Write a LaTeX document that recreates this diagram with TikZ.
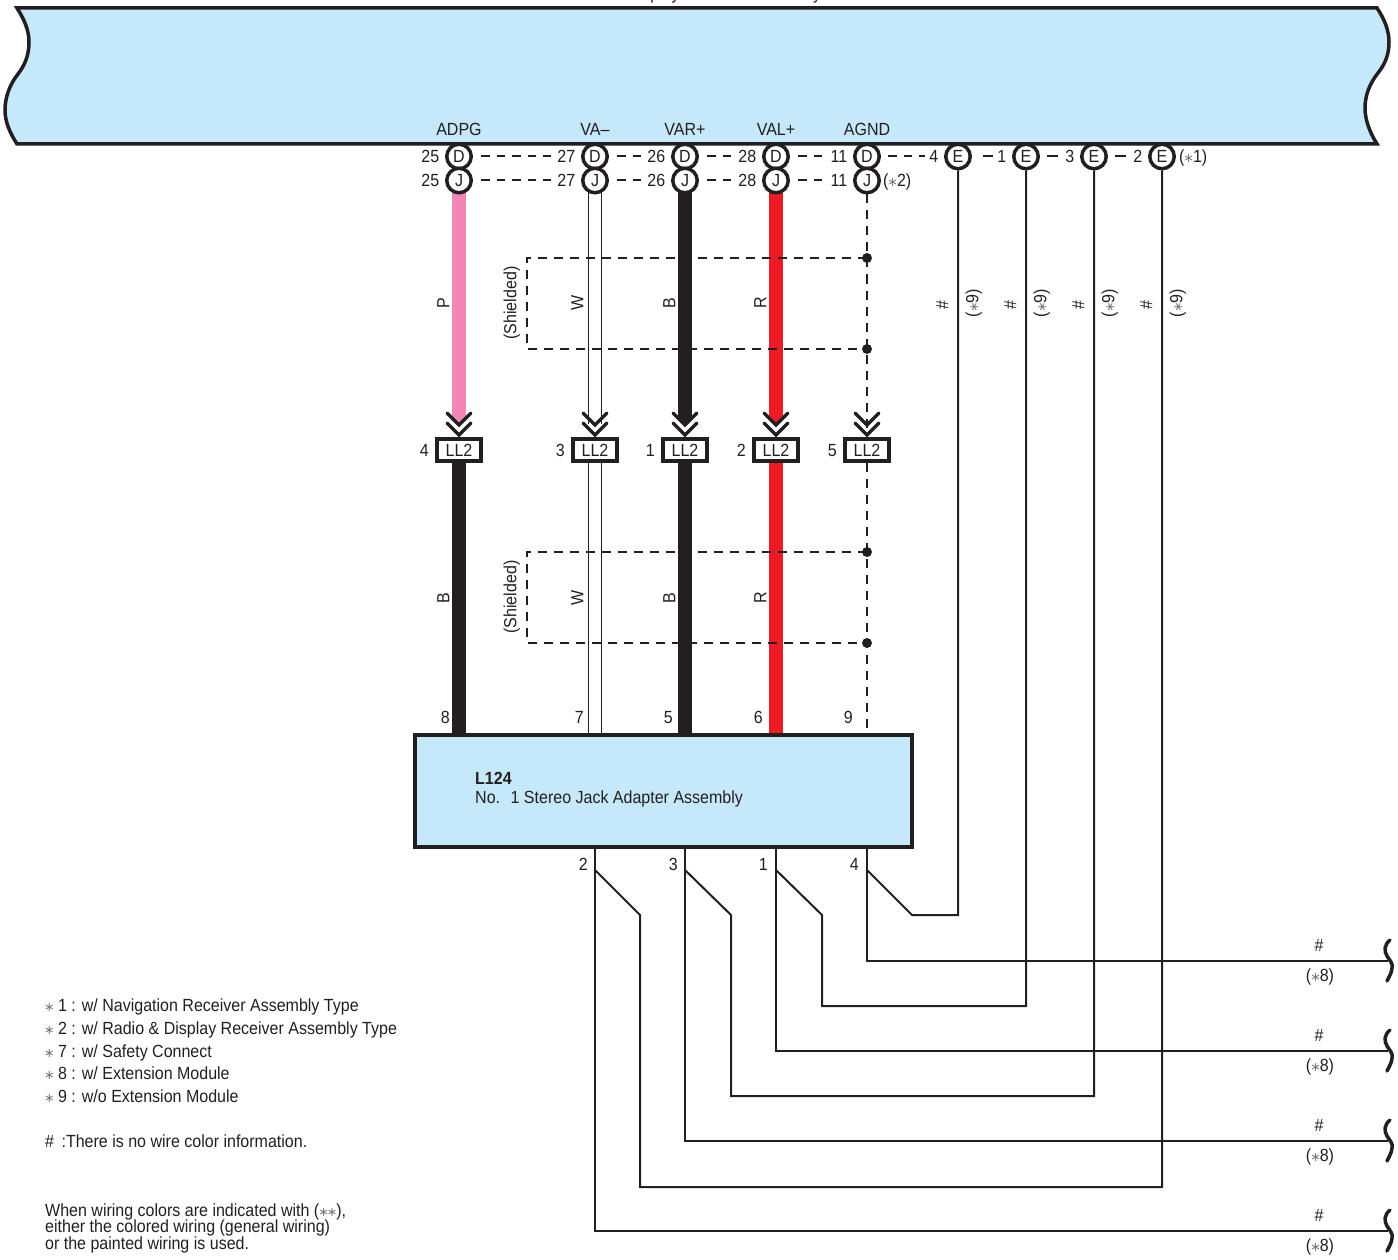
\documentclass[tikz,border=0pt]{standalone}
\usepackage{fontspec}
\setmainfont[FakeStretch=0.91]{Liberation Sans}
\newfontfamily\djv{DejaVu Sans}
\usetikzlibrary{backgrounds}
\definecolor{ink}{HTML}{231F20}
\definecolor{sky}{HTML}{C5E9FA}
\definecolor{wirepink}{HTML}{F287B7}
\definecolor{wirered}{HTML}{ED1C24}
\newcommand{\stR}{\makebox[8.5pt][c]{\djv\color{ink!60}\scalebox{.72}{∗}}}
\tikzset{
  base/.style={text=ink,font=\fontsize{17.6}{19}\selectfont,inner sep=0pt},
  lab/.style={base,anchor=base,yshift=-6.3pt},
  labr/.style={base,anchor=base east,yshift=-6.3pt},
  labl/.style={base,anchor=base west,yshift=-6.3pt},
  vert/.style={base,rotate=90,anchor=base,yshift=-6.3pt},
  pincircle/.style={base,circle,draw=ink,line width=3.5pt,fill=white,minimum size=24.5pt},
  llbox/.style={base,draw=ink,line width=4pt,fill=white,minimum width=44pt,minimum height=22pt},
  heavy/.style={line width=13.5pt},
  whitewire/.style={draw=ink,line width=1pt,double=white,double distance=12.5pt},
  thinwire/.style={draw=ink,line width=2pt},
  dashwire/.style={draw=ink,line width=2pt,dash pattern=on 9pt off 7pt},
  pindash/.style={draw=ink,line width=2pt,dash pattern=on 8.5pt off 7pt},
  chev/.style={draw=ink,line width=3.5pt,line cap=round,line join=miter},
  brace/.style={draw=ink,line width=3.5pt,line cap=round},
  joint/.style={fill=ink,circle,inner sep=0pt,minimum size=10pt}
}
\begin{document}
\begin{tikzpicture}[x=1pt,y=-1pt]
\useasboundingbox (0,0) rectangle (1398,1260);
% top band
\draw[draw=ink,fill=sky,line width=3.5pt,line join=miter]
  (17,8) -- (1377,8)
  .. controls (1385,20) and (1389,31) .. (1389,42)
  .. controls (1389,55) and (1385,64) .. (1378,73)
  .. controls (1370,83) and (1365,95) .. (1365,108)
  .. controls (1365,120) and (1370,133) .. (1377,144)
  -- (17,144)
  .. controls (10,133) and (5,122) .. (5,110)
  .. controls (5,97) and (10,84) .. (18,74)
  .. controls (25,65) and (29,55) .. (29,42)
  .. controls (29,30) and (24,19) .. (17,8) -- cycle;
\node[base,anchor=base west] (toplabel) at (627,0) {Display Receiver Assembly};
% signal names
\foreach \n/\x/\t in {1/459/ADPG,2/595/VA–,3/685/VAR+,4/776/VAL+,5/867/AGND}
  \node[lab] (sig\n) at (\x,129) {\t};
% D / J pins
\foreach \n/\x/\p in {1/459/25,2/595/27,3/685/26,4/776/28,5/867/11}{
  \node[pincircle] (d\n) at (\x,156.5) {D};
  \node[pincircle] (j\n) at (\x,180.5) {J};
  \node[labr] (dn\n) at (\x-19.5,156.5) {\p};
  \node[labr] (jn\n) at (\x-19.5,180.5) {\p};
}
% E pins
\foreach \n/\x/\p in {1/958/4,2/1026/1,3/1094/3,4/1162/2}{
  \node[pincircle] (e\n) at (\x,156.5) {E};
  \node[labr] (en\n) at (\x-19.5,156.5) {\p};
}
\node[labl] (n1) at (1179,156.5) {(\stR1)};
\node[labl] (n2) at (883,180.5) {(\stR2)};
% dashes between pins
\draw[pindash,shorten <=22pt,shorten >=44pt] (d1.center) -- (d2.center);
\draw[pindash,shorten <=22pt,shorten >=44pt] (j1.center) -- (j2.center);
\draw[pindash,shorten <=22pt,shorten >=43pt] (d2.center) -- (d3.center);
\draw[pindash,shorten <=22pt,shorten >=43pt] (j2.center) -- (j3.center);
\draw[pindash,shorten <=22pt,shorten >=43pt] (d3.center) -- (d4.center);
\draw[pindash,shorten <=22pt,shorten >=43pt] (j3.center) -- (j4.center);
\draw[pindash,shorten <=22pt,shorten >=44pt] (d4.center) -- (d5.center);
\draw[pindash,shorten <=22pt,shorten >=44pt] (j4.center) -- (j5.center);
\draw[pindash,shorten <=21pt,shorten >=33pt] (d5.center) -- (e1.center);
\draw[draw=ink,line width=2pt,shorten <=25pt,shorten >=33pt] (e1.center) -- (e2.center);
\draw[draw=ink,line width=2pt,shorten <=21pt,shorten >=36pt] (e2.center) -- (e3.center);
\draw[draw=ink,line width=2pt,shorten <=21pt,shorten >=36pt] (e3.center) -- (e4.center);
% LL2 connectors
\foreach \n/\x/\p in {1/459/4,2/595/3,3/685/1,4/776/2,5/867/5}{
  \node[llbox] (ll\n) at (\x,450) {LL2};
  \node[labr] (lln\n) at (\x-30,450) {\p};
  \coordinate (ua\n) at (\x,416);
  \coordinate (ub\n) at (\x,424);
  \coordinate (uc\n) at (\x,432);
}
% main box
\node[base,draw=ink,fill=sky,line width=3.5pt,minimum width=497pt,minimum height=112pt] (box) at (663.5,791) {};
\node[base,anchor=base west,font=\fontsize{17.6}{19}\selectfont\bfseries] (boxid) at (475,784) {L124};
\node[base,anchor=base west] (boxname) at (475,803.5) {No.\hspace{10.5pt}1 Stereo Jack Adapter Assembly};
% upper and lower wires (behind nodes)
\begin{pgfonlayer}{background}
  \draw[heavy,draw=wirepink] (j1.center) -- (ua1);
  \fill[wirepink] ([xshift=-6.75pt]ua1) -- (ub1) -- ([xshift=6.75pt]ua1) -- cycle;
  \draw[whitewire] (j2.center) -- (ub2);
  \draw[heavy,draw=ink] (j3.center) -- (ua3);
  \fill[ink] ([xshift=-6.75pt]ua3) -- (ub3) -- ([xshift=6.75pt]ua3) -- cycle;
  \draw[heavy,draw=wirered] (j4.center) -- (ua4);
  \fill[wirered] ([xshift=-6.75pt]ua4) -- (ub4) -- ([xshift=6.75pt]ua4) -- cycle;
  \draw[dashwire] (j5.south) -- (uc5);
  \draw[heavy,draw=ink] (ll1.center) -- (ll1 |- box.north);
  \draw[whitewire] (ll2.center) -- (ll2 |- box.north);
  \draw[heavy,draw=ink] (ll3.center) -- (ll3 |- box.north);
  \draw[heavy,draw=wirered] (ll4.center) -- (ll4 |- box.north);
  \draw[dashwire] (ll5.south) -- (ll5 |- box.north);
\end{pgfonlayer}
% chevrons
\foreach \n in {1,...,5}{
  \draw[chev] ([xshift=-12pt,yshift=3pt]ua\n) -- ([yshift=-9pt]ua\n) -- ([xshift=12pt,yshift=3pt]ua\n);
  \draw[chev] ([xshift=-12pt,yshift=-7pt]ua\n) -- ([yshift=-19pt]ua\n) -- ([xshift=12pt,yshift=-7pt]ua\n);
}
% bottom pin numbers above box
\foreach \n/\x/\p in {1/450/8,2/584/7,3/673/5,4/763/6,5/853/9}
  \node[labr] (tn\n) at (\x,717) {\p};
% wire letters
\foreach \n/\x/\t in {1/443/P,2/577/W,3/669/B,4/760/R}
  \node[vert] (ul\n) at (\x,303) {\t};
\foreach \n/\x/\t in {1/443/B,2/577/W,3/669/B,4/760/R}
  \node[vert] (lw\n) at (\x,598) {\t};
\node[vert] (sh1) at (510,303) {(Shielded)};
\node[vert] (sh2) at (510,597) {(Shielded)};
% shields
\node[joint] (sa) at (867,258) {};
\node[joint] (sb) at (867,349) {};
\node[joint] (sc) at (867,552) {};
\node[joint] (sd) at (867,643) {};
\coordinate (sal) at (527,258);
\coordinate (sbl) at (527,349);
\coordinate (scl) at (527,552);
\coordinate (sdl) at (527,643);
\draw[dashwire] (sa.center) -- (sal) -- (sbl) -- (sb.center);
\draw[dashwire] (sc.center) -- (scl) -- (sdl) -- (sd.center);
% E wires rotated labels
\foreach \n/\x in {1/942,2/1010,3/1078,4/1146}{
  \node[vert] (hs\n) at (\x,305) {\#};
  \node[vert] (nn\n) at (\x+30,303) {(\stR9)};
}
% pins under box
\foreach \n/\x/\p in {1/588/2,2/678/3,3/768/1,4/859/4}
  \node[labr] (bn\n) at (\x,864) {\p};
% bottom wires
\coordinate (k1) at (595,848);
\coordinate (k2) at (685,848);
\coordinate (k3) at (776,848);
\coordinate (k4) at (867,848);
\coordinate (t1) at (1388,1231);
\coordinate (t2) at (1388,1141);
\coordinate (t3) at (1388,1051);
\coordinate (t4) at (1388,961);
\draw[thinwire] (k1) |- (t1);
\draw[thinwire] (k2) |- (t2);
\draw[thinwire] (k3) |- (t3);
\draw[thinwire] (k4) |- (t4);
\draw[thinwire,line join=miter] (595,870) -- (640,915) |- (e4.south |- 0,1187) -- (e4.south);
\draw[thinwire,line join=miter] (685,870) -- (731,915) |- (e3.south |- 0,1096) -- (e3.south);
\draw[thinwire,line join=miter] (776,870) -- (822,915) |- (e2.south |- 0,1006) -- (e2.south);
\draw[thinwire,line join=miter] (867,870) -- (912,915) -- (e1.south |- 0,915) -- (e1.south);
% right braces and labels
\foreach \n/\y in {1/961,2/1051,3/1141,4/1231}{
  \draw[brace] (1390,\y-21) .. controls (1384,\y-16) and (1384,\y-10) .. (1387,\y-5)
     .. controls (1390,\y) and (1393,\y+2) .. (1392,\y+7)
     .. controls (1392,\y+11) and (1389,\y+16) .. (1387,\y+20);
  \node[lab] (ch\n) at (1319,\y-16) {\#};
  \node[lab] (cs\n) at (1320,\y+14) {(\stR8)};
}
% legend
\node[labl] (lg1) at (45,1005) {\stR\ 1 : w/ Navigation Receiver Assembly Type};
\node[labl] (lg2) at (45,1028) {\stR\ 2 : w/ Radio \& Display Receiver Assembly Type};
\node[labl] (lg3) at (45,1051) {\stR\ 7 : w/ Safety Connect};
\node[labl] (lg4) at (45,1073) {\stR\ 8 : w/ Extension Module};
\node[labl] (lg5) at (45,1096) {\stR\ 9 : w/o Extension Module};
\node[labl] (lg6) at (45,1141) {\#\hspace{7.5pt}:There is no wire color information.};
\node[labl] (lg7) at (45,1210) {When wiring colors are indicated with (\stR\stR),};
\node[labl] (lg8) at (45,1226.5) {either the colored wiring (general wiring)};
\node[labl] (lg9) at (45,1243) {or the painted wiring is used.};
\end{tikzpicture}
\end{document}
